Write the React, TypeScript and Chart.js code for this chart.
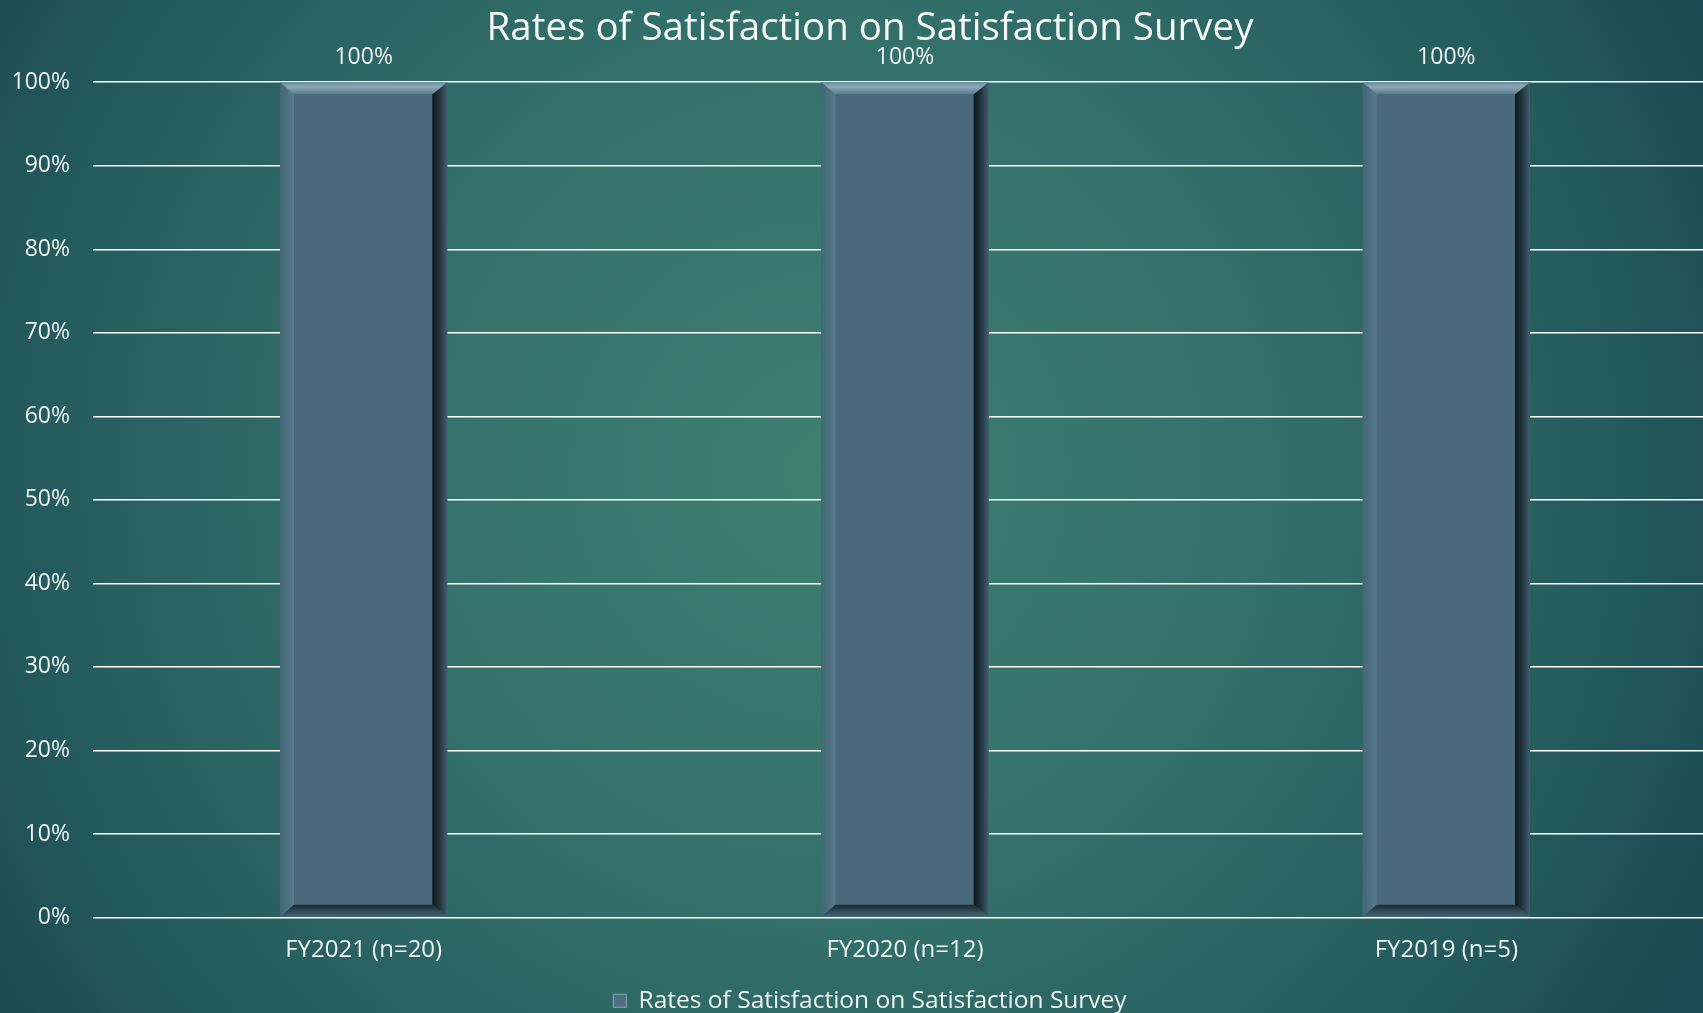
import React, { useEffect, useRef } from "react";
import { Chart, registerables } from "chart.js";

Chart.register(...registerables);

const categories = ["FY2021 (n=20)", "FY2020 (n=12)", "FY2019 (n=5)"];
const seriesName = "Rates of Satisfaction on Satisfaction Survey";
const satisfactionValues = [100, 100, 100];
const dataLabels = ["100%", "100%", "100%"];

const FONT = "'Open Sans', 'DejaVu Sans', sans-serif";
const TEXT = "#eef3f3";

const backgroundPlugin = {
  id: "bgGradient",
  beforeDraw(chart: any) {
    const { ctx, width, height } = chart;
    ctx.save();
    const g = ctx.createRadialGradient(820, 470, 0, 820, 470, 1000);
    g.addColorStop(0, "#3e7f72");
    g.addColorStop(0.45, "#33706a");
    g.addColorStop(0.8, "#245a5c");
    g.addColorStop(1, "#1b4852");
    ctx.fillStyle = g;
    ctx.fillRect(0, 0, width, height);
    ctx.restore();
  },
};

// shift the centred title and legend so they are centred as in the original slide
const centerShiftPlugin = {
  id: "centerShift",
  afterLayout(chart: any) {
    if (chart.titleBlock) chart.titleBlock.left += 23;
    if (chart.legend) chart.legend.left += 23;
  },
};

const bevelPlugin = {
  id: "bevelBars",
  afterDatasetsDraw(chart: any) {
    const { ctx } = chart;
    const meta = chart.getDatasetMeta(0);
    ctx.save();
    meta.data.forEach((bar: any, i: number) => {
      const w = bar.width;
      const L = bar.x - w / 2;
      const R = bar.x + w / 2;
      const T = bar.y;
      const B = bar.base;
      const t = 12, l = 14, r = 15, b = 12;
      const poly = (pts: number[][], fill: any) => {
        ctx.beginPath();
        ctx.moveTo(pts[0][0], pts[0][1]);
        for (let k = 1; k < pts.length; k++) ctx.lineTo(pts[k][0], pts[k][1]);
        ctx.closePath();
        ctx.fillStyle = fill;
        ctx.fill();
      };
      const gl = ctx.createLinearGradient(L, 0, L + l, 0);
      gl.addColorStop(0, "#426777");
      gl.addColorStop(1, "#587a8a");
      poly([[L, T], [L + l, T + t], [L + l, B - b], [L, B]], gl);
      const gr = ctx.createLinearGradient(R - r, 0, R, 0);
      gr.addColorStop(0, "#0d171c");
      gr.addColorStop(0.5, "#23363f");
      gr.addColorStop(1, "#3f5f6e");
      poly([[R, T], [R, B], [R - r, B - b], [R - r, T + t]], gr);
      const gb = ctx.createLinearGradient(0, B - b, 0, B);
      gb.addColorStop(0, "#1a2a32");
      gb.addColorStop(0.5, "#2f4a55");
      gb.addColorStop(1, "#426573");
      poly([[L, B], [R, B], [R - r, B - b], [L + l, B - b]], gb);
      const gt = ctx.createLinearGradient(0, T, 0, T + t);
      gt.addColorStop(0, "#6d8e9d");
      gt.addColorStop(0.4, "#8aa9b6");
      gt.addColorStop(1, "#5a7c8c");
      poly([[L, T], [R, T], [R - r, T + t], [L + l, T + t]], gt);

      ctx.fillStyle = TEXT;
      ctx.font = `23px ${FONT}`;
      ctx.textAlign = "center";
      ctx.textBaseline = "middle";
      ctx.fillText(dataLabels[i], bar.x, T - 25);
    });
    ctx.restore();
  },
};

export default function App() {
  const ref = useRef<HTMLCanvasElement | null>(null);

  useEffect(() => {
    document.body.style.margin = "0";
    document.body.style.overflow = "hidden";
    if (!ref.current) return;
    const chart = new Chart(ref.current, {
      type: "bar",
      data: {
        labels: categories,
        datasets: [
          {
            label: seriesName,
            data: satisfactionValues,
            backgroundColor: "#4a697c",
            borderWidth: 0,
            categoryPercentage: 1,
            barPercentage: 0.309,
          },
        ],
      },
      options: {
        animation: false,
        responsive: true,
        maintainAspectRatio: false,
        layout: { padding: { top: 0, right: 23, bottom: -10, left: 0 } },
        plugins: {
          title: {
            display: true,
            text: "Rates of Satisfaction on Satisfaction Survey",
            color: "#f5f8f8",
            font: { family: FONT, size: 38.5, weight: "normal" as any },
            padding: { top: 6, bottom: 30 },
          },
          legend: {
            display: true,
            position: "bottom",
            labels: {
              color: TEXT,
              font: { family: FONT, size: 24.5 },
              boxWidth: 13,
              boxHeight: 13,
              padding: 2,
              generateLabels: () => [
                {
                  text: seriesName,
                  fillStyle: "#4f7083",
                  strokeStyle: "#8aa6b4",
                  lineWidth: 1,
                  fontColor: TEXT,
                  datasetIndex: 0,
                  hidden: false,
                } as any,
              ],
            },
          },
          tooltip: { enabled: false },
        },
        scales: {
          x: {
            grid: { display: false, drawTicks: false },
            border: { display: false },
            ticks: {
              color: TEXT,
              font: { family: FONT, size: 24 },
              padding: 18,
            },
            afterFit: (scale: any) => {
              scale.height = 69;
            },
          },
          y: {
            min: 0,
            max: 100,
            grid: {
              color: "#ffffff",
              lineWidth: 1.5,
              drawTicks: false,
            },
            border: { display: false },
            ticks: {
              stepSize: 10,
              color: TEXT,
              font: { family: FONT, size: 23 },
              padding: 23,
              callback: (v: any) => `${v}%`,
            },
            afterFit: (scale: any) => {
              scale.width = 93;
            },
          },
        },
      },
      plugins: [backgroundPlugin, centerShiftPlugin, bevelPlugin],
    });
    return () => chart.destroy();
  }, []);

  return (
    <div style={{ width: 1740, height: 1013, position: "relative" }}>
      <canvas ref={ref} />
    </div>
  );
}
